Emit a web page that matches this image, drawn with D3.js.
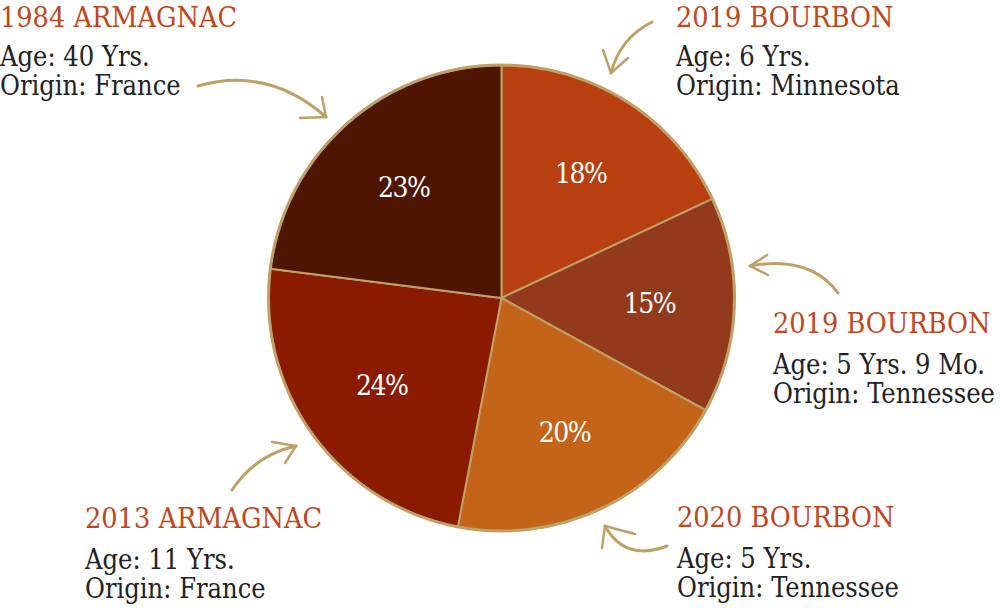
<!DOCTYPE html>
<html>
<head>
<meta charset="utf-8">
<script src="https://cdn.jsdelivr.net/npm/d3@7"></script>
<style>
  html, body { margin: 0; padding: 0; background: #fff; }
  svg { display: block; }
  svg text { font-family: "DejaVu Serif Condensed", "DejaVu Serif", serif; font-stretch: condensed; }
</style>
</head>
<body>
<svg id="chart" width="1000" height="608"></svg>
<script>
// ---- data ----
const spirits = ["2019 BOURBON (MN)", "2019 BOURBON (TN)", "2020 BOURBON", "2013 ARMAGNAC", "1984 ARMAGNAC"];
const shares = [18, 15, 20, 24, 23];
const titles = ["2019 BOURBON", "2019 BOURBON", "2020 BOURBON", "2013 ARMAGNAC", "1984 ARMAGNAC"];
const ages = ["Age: 6 Yrs.", "Age: 5 Yrs. 9 Mo.", "Age: 5 Yrs.", "Age: 11 Yrs.", "Age: 40 Yrs."];
const origins = ["Origin: Minnesota", "Origin: Tennessee", "Origin: Tennessee", "Origin: France", "Origin: France"];

// ---- styling / layout ----
const colors = ["#B83F10", "#933A1C", "#C46418", "#8A1B00", "#4E1500"];
const gold = "#BFA066";
const titleColor = "#C0461C";
const cx = 501.5, cy = 298, R = 233;

const svg = d3.select("#chart");
const pie = d3.pie().sort(null).value(d => d)(shares);
const arc = d3.arc().innerRadius(0).outerRadius(R);
const labelArc = d3.arc().innerRadius(148).outerRadius(148);

const g = svg.append("g").attr("transform", `translate(${cx},${cy})`);
g.selectAll("path.slice").data(pie).join("path")
  .attr("class", "slice")
  .attr("d", arc)
  .attr("fill", (d, i) => colors[i])
  .attr("stroke", gold)
  .attr("stroke-width", 2)
  .attr("stroke-linejoin", "round");
g.append("circle").attr("r", R).attr("fill", "none").attr("stroke", gold).attr("stroke-width", 3);

g.selectAll("text.pct").data(pie).join("text")
  .attr("class", "pct")
  .attr("transform", d => `translate(${labelArc.centroid(d)})`)
  .attr("text-anchor", "middle")
  .attr("dy", "0.37em")
  .attr("font-size", 28)
  .attr("letter-spacing", -1.5)
  .attr("fill", "#fff")
  .text(d => d.data + "%");

// ---- annotation blocks ----
const blockPos = [
  {x: 676, y: 27, a: 39, o: 68},
  {x: 773, y: 333, a: 41, o: 70},
  {x: 677, y: 527, a: 41, o: 70},
  {x: 85, y: 528, a: 41, o: 70},
  {x: 0, y: 27, a: 39, o: 68}
];
const blocks = svg.selectAll("g.block").data(spirits).join("g")
  .attr("class", "block")
  .attr("transform", (d, i) => `translate(${blockPos[i].x},${blockPos[i].y})`)
  .attr("font-size", 27);
blocks.append("text").attr("fill", titleColor).attr("font-size", 28.5).text((d, i) => titles[i]);
blocks.append("text").attr("y", (d, i) => blockPos[i].a).attr("fill", "#222").text((d, i) => ages[i]);
blocks.append("text").attr("y", (d, i) => blockPos[i].o).attr("fill", "#222").text((d, i) => origins[i]);

// ---- arrows ----
const arrows = [
  {d: "M198,86 Q268,66 326,117", h: "M322,97 L326,117 L300,118"},
  {d: "M652,22 Q620,38 611,73", h: "M603,50 L611,73 L628,58"},
  {d: "M838,293 Q810,255 750,266", h: "M767,255 L750,266 L768,275"},
  {d: "M232,490 Q255,455 296,446", h: "M272,442 L296,446 L285,463"},
  {d: "M667,546 Q625,562 605,526", h: "M602,548 L605,526 L635,534"}
];
const ag = svg.append("g").attr("fill", "none").attr("stroke", gold).attr("stroke-linecap", "round").attr("stroke-linejoin", "round");
arrows.forEach(a => {
  ag.append("path").attr("d", a.d).attr("stroke-width", 3);
  ag.append("path").attr("d", a.h).attr("stroke-width", 2.5);
});
</script>
</body>
</html>
